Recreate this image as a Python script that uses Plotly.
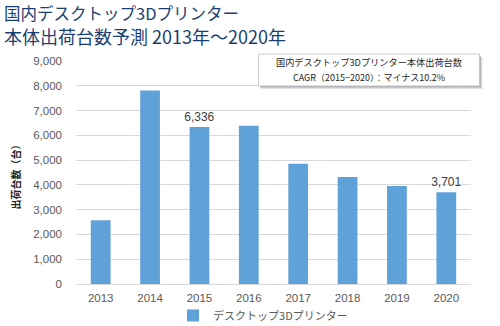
import plotly.graph_objects as go

# Shipment forecast data
years = ["2013", "2014", "2015", "2016", "2017", "2018", "2019", "2020"]
shipments = [2570, 7805, 6336, 6390, 4853, 4320, 3960, 3701]
labelled_years = ["2015", "2020"]
y_ticks = [0, 1000, 2000, 3000, 4000, 5000, 6000, 7000, 8000, 9000]

series_name = "デスクトップ3Dプリンター"
title_line1 = "国内デスクトップ3Dプリンター"
title_line2 = "本体出荷台数予測 2013年～2020年"
y_title = "出荷台数（台）"
box_line1 = "国内デスクトップ3Dプリンター本体出荷台数"
box_line2 = "CAGR（2015−2020）：マイナス10.2%"

BAR = "#5FA2DA"
GRID = "#D9D9D9"
TICK = "#595959"
TITLE = "#1B3F73"
JP = "Noto Sans CJK JP"
LAT = "Liberation Sans, Arial"

bar_text = [f"{v:,}" if y in labelled_years else "" for y, v in zip(years, shipments)]

fig = go.Figure(
    go.Bar(
        x=years,
        y=shipments,
        name=series_name,
        marker=dict(color=BAR, line=dict(width=0)),
        text=bar_text,
        textposition="outside",
        constraintext="none",
        textfont=dict(family=LAT, size=12, color="#404040"),
        cliponaxis=False,
        showlegend=True,
    )
)

# geometry of plot area in pixels
W, H = 500, 326
L, R, T, B = 75.5, 28.5, 61, 41.5
pw = W - L - R
ph = H - T - B


def px_x(x):
    return (x - L) / pw


def px_y(y):
    return (H - B - y) / ph


shapes = [
    # soft shadow of the CAGR box
    dict(type="rect", xref="paper", yref="paper",
         x0=px_x(261), x1=px_x(483), y0=px_y(89), y1=px_y(57),
         fillcolor="rgba(0,0,0,0.12)", line=dict(width=0), layer="above"),
    dict(type="rect", xref="paper", yref="paper",
         x0=px_x(260), x1=px_x(481.5), y0=px_y(87.5), y1=px_y(55.5),
         fillcolor="rgba(0,0,0,0.22)", line=dict(width=0), layer="above"),
    dict(type="rect", xref="paper", yref="paper",
         x0=px_x(258.5), x1=px_x(480), y0=px_y(86), y1=px_y(54),
         fillcolor="white", line=dict(color="#BFBFBF", width=0.8), layer="above"),
]

annotations = [
    dict(text=title_line1, xref="paper", yref="paper", x=px_x(1), y=px_y(12.5),
         xanchor="left", yanchor="middle", showarrow=False,
         font=dict(family=JP, size=16.5, color=TITLE)),
    dict(text=title_line2, xref="paper", yref="paper", x=px_x(1), y=px_y(36),
         xanchor="left", yanchor="middle", showarrow=False,
         font=dict(family=JP, size=18, color=TITLE)),
    dict(text=box_line1, xref="paper", yref="paper", x=px_x(369.5), y=px_y(62.5),
         xanchor="center", yanchor="middle", showarrow=False,
         font=dict(family=JP, size=9.2, color="#262626")),
    dict(text=box_line2, xref="paper", yref="paper", x=px_x(369.5), y=px_y(78),
         xanchor="center", yanchor="middle", showarrow=False,
         font=dict(family=JP, size=9, color="#262626")),
    dict(text=y_title, xref="paper", yref="paper", x=px_x(15), y=px_y(175),
         xanchor="center", yanchor="middle", showarrow=False, textangle=-90,
         font=dict(family=JP, size=10, color="#262626", weight="bold")),
]

fig.update_layout(
    width=W,
    height=H,
    margin=dict(l=L, r=R, t=T, b=B, pad=0, autoexpand=False),
    paper_bgcolor="white",
    plot_bgcolor="white",
    bargap=0.6,
    xaxis=dict(
        type="category",
        showgrid=False,
        showline=True,
        linecolor=GRID,
        linewidth=1,
        ticks="",
        tickfont=dict(family=LAT, size=11.5, color=TICK),
        ticklabelstandoff=3,
    ),
    yaxis=dict(
        range=[0, 9000],
        tickvals=y_ticks,
        tickformat=",",
        showgrid=True,
        gridcolor=GRID,
        gridwidth=1,
        zeroline=False,
        showline=False,
        ticks="",
        tickfont=dict(family=LAT, size=11.5, color=TICK),
        ticklabelstandoff=13,
    ),
    legend=dict(
        orientation="h",
        xref="paper", yref="paper",
        x=px_x(263), y=px_y(316),
        xanchor="center", yanchor="middle",
        bgcolor="rgba(0,0,0,0)",
        font=dict(family=JP, size=11, color=TICK),
        itemwidth=30,
    ),
    shapes=shapes,
    annotations=annotations,
)

fig.write_html("out.html")
